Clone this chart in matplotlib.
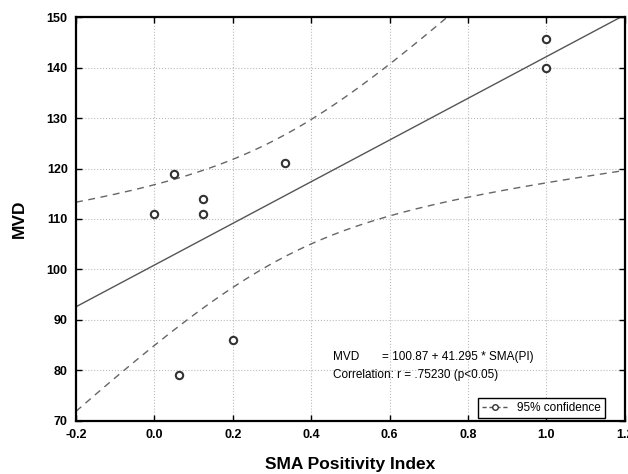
import numpy as np
import matplotlib.pyplot as plt
from matplotlib.lines import Line2D

plt.rcParams['font.family'] = ['Liberation Sans', 'DejaVu Sans']

# SMA positivity index vs MVD
sma_pi = [0.0, 0.05, 0.0625, 0.125, 0.125, 0.2, 0.333, 1.0, 1.0]
mvd = [111, 119, 79, 114, 111, 86, 121, 145.6, 140]

intercept = 100.87
slope = 41.295
t_crit = 2.365  # t(0.975, df=7)

x = np.array(sma_pi)
y = np.array(mvd)
n = len(x)
xm = x.mean()
sxx = np.sum((x - xm) ** 2)
resid = y - (intercept + slope * x)
s = np.sqrt(np.sum(resid ** 2) / (n - 2))

xs = np.linspace(-0.2, 1.2, 300)
fit = intercept + slope * xs
half = t_crit * s * np.sqrt(1 / n + (xs - xm) ** 2 / sxx)

fig = plt.figure(figsize=(6.28, 4.74), dpi=100)
ax = fig.add_axes([0.121, 0.112, 0.874, 0.852])

ax.grid(True, color='#bbbbbb', linestyle=':', linewidth=0.8)
ax.set_axisbelow(True)

ax.plot(xs, fit, color='#555555', linewidth=1.0)
ax.plot(xs, fit + half, color='#666666', linewidth=1.0, dashes=(5, 4))
ax.plot(xs, fit - half, color='#666666', linewidth=1.0, dashes=(5, 4))
ax.scatter(x, y, s=28, facecolors='white', edgecolors='#333333', linewidths=1.5, zorder=3)

ax.set_xlim(-0.2, 1.2)
ax.set_ylim(70, 150)
ax.set_xticks(np.arange(-0.2, 1.21, 0.2))
ax.set_xticklabels(['-0.2', '0.0', '0.2', '0.4', '0.6', '0.8', '1.0', '1.2'])
ax.set_yticks(np.arange(70, 151, 10))
ax.tick_params(direction='in', length=4, width=1, top=True, right=True,
               labelsize=9, pad=6)
for lab in ax.get_xticklabels() + ax.get_yticklabels():
    lab.set_fontweight('bold')
for sp in ax.spines.values():
    sp.set_linewidth(1.6)

ax.set_xlabel('SMA Positivity Index', fontsize=12.5, fontweight='bold', labelpad=11)
ax.set_ylabel('MVD', fontsize=12.5, fontweight='bold', labelpad=14)

ax.text(0.455, 82.7, 'MVD       = 100.87 + 41.295 * SMA(PI)', fontsize=8.5, va='center')
ax.text(0.455, 79.1, 'Correlation: r = .75230 (p<0.05)', fontsize=8.5, va='center')

handle = Line2D([], [], color='#555555', linewidth=1.0, dashes=(3, 2), marker='o',
                markersize=4, markerfacecolor='white', markeredgecolor='#333333')
leg = ax.legend([handle], ['95% confidence'], loc='lower right',
                bbox_to_anchor=(0.964, 0.007), fancybox=False, framealpha=1,
                edgecolor='black', fontsize=8.5, handlelength=2.2,
                borderpad=0.35, borderaxespad=0)
leg.get_frame().set_linewidth(1.0)

fig.savefig('out.png', dpi=100)
